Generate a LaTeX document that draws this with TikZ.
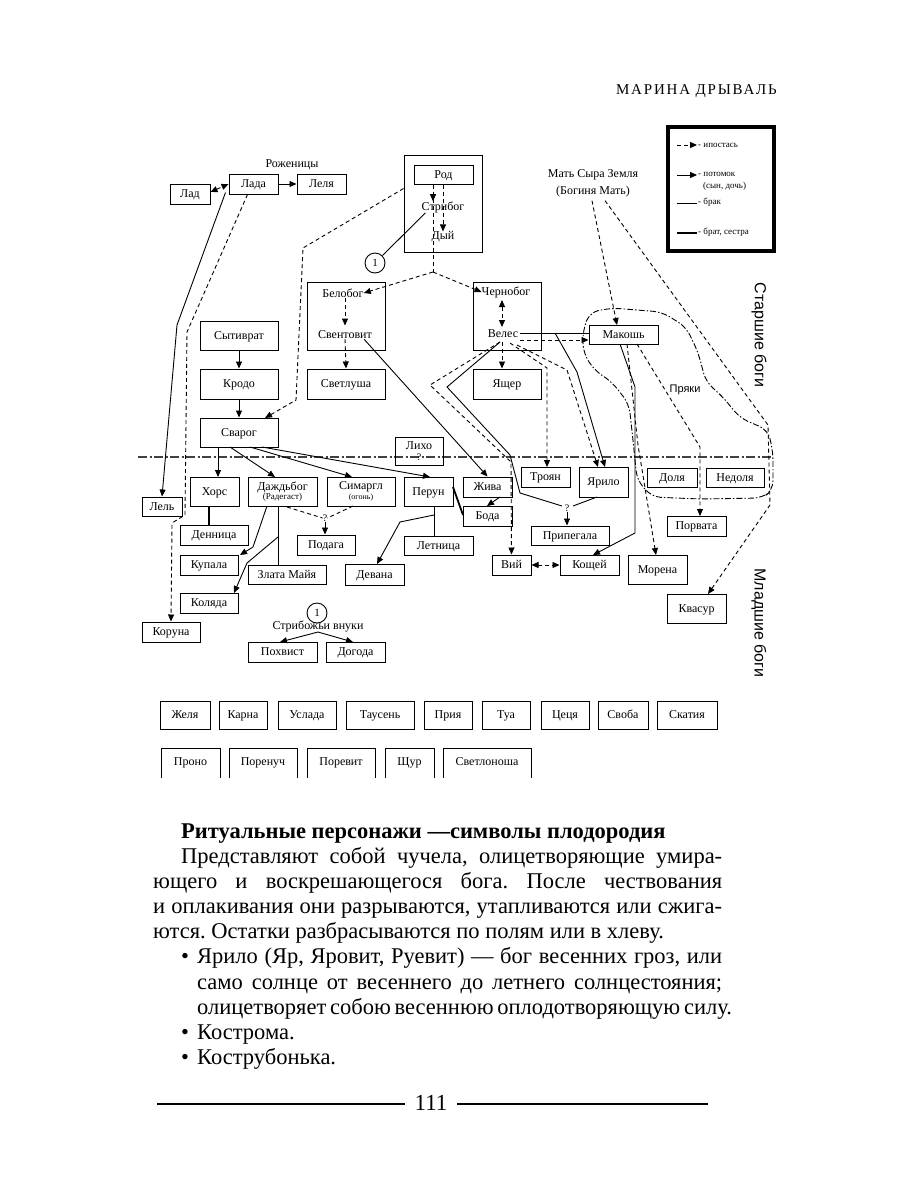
\documentclass[tikz,border=0pt]{standalone}
\usepackage{fontspec}
\setmainfont{Liberation Serif}
\newfontfamily\sansf{Liberation Sans}
\newfontfamily\hdrf[LetterSpace=12]{Liberation Serif}
\usetikzlibrary{arrows.meta,calc}
\frenchspacing
\newcommand\bxstrut{\rule[-3.5pt]{0pt}{14.5pt}}
\tikzset{
 bx/.style={draw, line width=1pt, inner sep=0pt, font=\fontsize{12}{12.5}\selectfont, align=center},
 lab/.style={inner sep=0pt, font=\fontsize{12}{12.5}\selectfont, align=center},
 con/.style={line width=0.9pt},
 arr/.style={con, -{Triangle[length=7pt,width=6pt]}},
 hyp/.style={con, dash pattern=on 4pt off 3pt},
 harr/.style={hyp, -{Triangle[length=7pt,width=6pt]}},
 hboth/.style={hyp, {Triangle[length=7pt,width=6pt]}-{Triangle[length=7pt,width=6pt]}},
 sib/.style={line width=2.2pt},
 divider/.style={line width=2.6pt, black!75, dash pattern=on 9pt off 2.5pt on 2pt off 2.5pt},
 pryak/.style={line width=0.9pt, dash pattern=on 6pt off 2pt on 1.5pt off 2pt},
 body/.style={inner sep=0pt, anchor=base west, font=\fontsize{22.5}{25}\selectfont},
 legtxt/.style={inner sep=0pt, anchor=west, font=\fontsize{9}{10}\selectfont},
 num/.style={draw, circle, line width=0.9pt, minimum size=20pt, inner sep=0pt, font=\fontsize{11}{11}\selectfont},
 vlab/.style={rotate=-90, inner sep=0pt, font=\sansf\fontsize{16}{16}\selectfont},
}
% single-line box (with strut)
\newcommand\bx[6]{%
 \pgfmathsetmacro\bxw{#4-#2}\pgfmathsetmacro\bxh{#5-#3}%
 \pgfmathsetmacro\bxx{(#2+#4)/2}\pgfmathsetmacro\bxy{(#3+#5)/2}%
 \node[bx,minimum width=\bxw pt,minimum height=\bxh pt] (#1) at (\bxx,\bxy) {\bxstrut #6};}
% multi-line box (no strut)
\newcommand\bxm[6]{%
 \pgfmathsetmacro\bxw{#4-#2}\pgfmathsetmacro\bxh{#5-#3}%
 \pgfmathsetmacro\bxx{(#2+#4)/2}\pgfmathsetmacro\bxy{(#3+#5)/2}%
 \node[bx,minimum width=\bxw pt,minimum height=\bxh pt] (#1) at (\bxx,\bxy) {#6};}
\newcommand\obx[4]{%
 \draw[line width=1pt] (#2,778) -- (#2,748) -- (#3,748) -- (#3,778);
 \pgfmathsetmacro\bxx{(#2+#3)/2}%
 \node[lab] (#1) at (\bxx,762) {\bxstrut #4};}
\begin{document}
\begin{tikzpicture}[x=1pt,y=-1pt]
\fill[white] (0,0) rectangle (900,1200);
\useasboundingbox (0,0) rectangle (900,1200);

% header
\node[inner sep=0pt, anchor=base east, font=\hdrf\fontsize{15}{15}\selectfont] (hdr) at (777,94) {МАРИНА ДРЫВАЛЬ};

% legend
\node[draw, line width=3.5pt, minimum width=106pt, minimum height=124pt, inner sep=0pt] (legend) at (721,189) {};
\coordinate (l1a) at (677,145); \coordinate (l1b) at (697,145);
\draw[harr] (l1a) -- (l1b);
\node[legtxt] (lt1) at (698,145) {- ипостась};
\coordinate (l2a) at (677,175); \coordinate (l2b) at (697,175);
\draw[arr] (l2a) -- (l2b);
\node[legtxt] (lt2) at (698,174) {- потомок};
\node[legtxt] (lt2b) at (703,186) {(сын, дочь)};
\coordinate (l3a) at (677,203); \coordinate (l3b) at (697,203);
\draw[con] (l3a) -- (l3b);
\node[legtxt] (lt3) at (698,202) {- брак};
\coordinate (l4a) at (677,233); \coordinate (l4b) at (697,233);
\draw[sib] (l4a) -- (l4b);
\node[legtxt] (lt4) at (698,232) {- брат, сестра};

% top boxes
\node[lab] (rozh) at (292,165) {Роженицы};
\bx{lad}{170}{184}{210}{204}{Лад}
\bx{lada}{229}{174}{278}{194}{Лада}
\bx{lelya}{297}{174}{346}{194}{Леля}
\bxm{rodbig}{404}{155}{482}{252}{}
\bx{rod}{414}{165}{473}{184}{Род}
\node[lab] (strib) at (443,207) {Стрибог};
\node[lab] (dyi) at (443,237) {Дый};
\node[num] (c1) at (375,263) {1};
\bxm{belbox}{307}{282}{385}{350}{}
\node[lab] (belobog) at (343,293) {Белобог};
\node[lab] (svent) at (345,335) {Свентовит};
\bx{svetlusha}{307}{369}{385}{399}{Светлуша}
\bx{sytivrat}{200}{321}{278}{350}{Сытиврат}
\bx{krodo}{200}{369}{278}{399}{Кродо}
\bx{svarog}{200}{418}{278}{447}{Сварог}
\bxm{chbox}{473}{282}{541}{350}{}
\node[lab] (chern) at (506,292) {Чернобог};
\node[lab] (veles) at (503,334) {Велес};
\bx{yashcher}{473}{369}{541}{399}{Ящер}
\bx{makosh}{589}{325}{658}{344}{Макошь}
\node[lab] (msz) at (593,175) {Мать Сыра Земля};
\node[lab] (msz2) at (593,192) {(Богиня Мать)};
\node[inner sep=0pt, font=\sansf\fontsize{11}{11}\selectfont] (pryaki) at (685,390) {Пряки};

% divider
\coordinate (divL) at (138,457); \coordinate (divR) at (772,457);
\draw[divider] (divL) -- (divR);

% lower boxes
\bxm{likho}{395}{437}{443}{465}{Лихо\\[-1pt]{\fontsize{10}{10}\selectfont ?}}
\bx{khors}{190}{477}{239}{506}{Хорс}
\bxm{dazhd}{248}{477}{317}{506}{Даждьбог\\[-3pt]{\fontsize{9}{9}\selectfont (Радегаст)}}
\bxm{simargl}{327}{477}{395}{506}{Симаргл\\[-3pt]{\fontsize{8}{8}\selectfont (огонь)}}
\bx{perun}{404}{477}{453}{506}{Перун}
\bx{lel}{142}{497}{182}{516}{Лель}
\bx{zhiva}{463}{477}{512}{497}{Жива}
\bx{boda}{463}{506}{512}{526}{Бода}
\bx{troyan}{521}{467}{570}{487}{Троян}
\bx{yarilo}{579}{467}{628}{497}{Ярило}
\bx{dolya}{647}{468}{697}{487}{Доля}
\bx{nedolya}{706}{468}{764}{487}{Недоля}
\bx{dennitsa}{180}{525}{248}{545}{Денница}
\bx{podaga}{297}{535}{355}{555}{Подага}
\bx{letnitsa}{404}{536}{473}{555}{Летница}
\bx{pripegala}{531}{526}{609}{545}{Припегала}
\bx{kupala}{180}{555}{238}{575}{Купала}
\bx{zlata}{248}{565}{326}{584}{Злата Майя}
\bx{devana}{345}{564}{404}{585}{Девана}
\bx{vii}{492}{555}{531}{575}{Вий}
\bx{koshchei}{560}{555}{619}{575}{Кощей}
\bx{morena}{628}{555}{687}{584}{Морена}
\bx{porvata}{667}{516}{726}{536}{Порвата}
\bx{kolyada}{180}{593}{238}{613}{Коляда}
\bx{kvasur}{667}{594}{726}{623}{Квасур}
\bx{koruna}{142}{622}{200}{642}{Коруна}
\node[num] (c2) at (317,613) {1};
\node[lab] (vnuki) at (318,626) {Стрибожьи внуки};
\bx{pokhvist}{248}{642}{317}{662}{Похвист}
\bx{dogoda}{326}{642}{385}{662}{Догода}

\node[vlab] (starshie) at (759,335) {Старшие боги};
\node[vlab] (mladshie) at (759,623) {Младшие боги};

% --- connectors, top
\draw[arr] (lada) -- (lelya);
\draw[hboth] (lad.east) ++(0,-2) coordinate (ladE) -- (lada.west) ;
\draw[arr] (lada.south west) ++(-3,-2) -- (177,325) -- (lel.north);
\draw[harr] (lada.south) ++(-6,0) -- (187,332) -- (185,515) -- (172,523) -- (koruna.north);
\draw[harr] (rodbig.west) ++(0,-15) -- (303,248) -- (296,400) -- (265,418);
\draw[harr] (rod.south) ++(-10.5,0) coordinate (rs1) -- (rs1 |- strib.north);
\draw[harr] (rod.south) ++(-0.5,0) coordinate (rs2) -- (rs2 |- dyi.north);
\draw[hyp] (rod.south) ++(-10.5,0) coordinate (rs3) -- (433,272) coordinate (junc);
\draw[harr] (junc) -- (belobog.east);
\draw[harr] (junc) -- (chern.west);
\draw[con] (strib.south west) ++(4,0) -- (c1);
\draw[harr] (belobog.south) ++(2,0) -- ++(0,28);
\draw[harr] (svent.south) -- (svetlusha.north);
\draw[con, -{Triangle[length=7pt,width=6pt]}] (svent.south east) ++(-8,0) -- (zhiva.north);
\draw[arr] (sytivrat) -- (krodo);
\draw[arr] (krodo) -- (svarog);
\draw[hboth] (502,300) -- (502,327);
\draw[harr] (502,342) -- (yashcher.north -| 502,0);

% Veles & Makosh
\draw[con] (520,333) -- (makosh.west |- 0,333);
\draw[harr] (520,340) -- (makosh.west |- 0,340);
\draw[arr] (555,333) -- (577,372) -- (605,467);
\draw[harr] (517,345) -- (567,370) -- (598,467);
\draw[harr] (510,343) -- (547,368) -- (547,467);
\draw[harr] (500,342) -- (430,385) -- (511,462) -- (vii.north);
\draw[con] (500,342) -- (447,387) -- (510,455) -- (520,493) -- (562,506);
\draw[con] (597,497) -- (573,506);
\node[lab, font=\fontsize{10}{10}\selectfont] (q2) at (567,508) {?};
\draw[arr] (q2.south) -- (pripegala.north -| q2);
\draw[arr] (620,344) -- (635,387) -- (635,533) -- (593,555);
\draw[harr] (627,344) -- (638,445) -- (656,555);
\draw[harr] (637,344) -- (700,447) -- (700,516);
\draw[harr] (msz2.south) ++(-1,3) -- (617,325);
\draw[harr] (msz2.south) ++(12,3) -- (768,425) -- (770,505) -- (708,594);
\draw[pryak, rounded corners=9pt] (583,330) -- (590,312) -- (612,308) -- (662,312) -- (686,327) -- (698,352) -- (706,382) -- (722,396) -- (740,418) -- (768,430) -- (773,452) -- (773,490) -- (762,498) -- (700,499) -- (652,497) -- (637,480) -- (633,440) -- (629,404) -- (612,382) -- (594,370) -- (583,352) -- cycle;

% Svarog children
\draw[arr] (218,447) -- (218,477);
\draw[arr] (230,447) -- (275,477);
\draw[arr] (250,447) -- (352,477);
\draw[arr] (262,447) -- (430,477);
\draw[sib] (209,506) -- (209,525);
\draw[arr] (267,506) -- (253,547) -- (240,555);
\draw[con] (278,506) -- (278,565);
\draw[arr] (278,537) -- (247,563) -- (234,593);
\node[lab, font=\fontsize{10}{10}\selectfont] (q1) at (325,518) {?};
\draw[hyp] (287,507) -- (q1.west);
\draw[hyp] (353,506) -- (q1.east);
\draw[arr] (q1.south) -- (podaga.north -| q1);
\draw[con] (434,506) -- (434,536);
\draw[arr] (434,515) -- (400,522) -- (377,564);
\draw[line width=1.8pt] (453,487) -- (463,515);
\draw[arr] (500,497) -- (487,506);
\draw[hboth] (vii) -- (koshchei);
\draw[arr] (318,632) -- (280,642);
\draw[arr] (318,632) -- (353,642);

% bottom rows
\bx{zhelya}{160}{701}{210}{729}{Желя}
\bx{karna}{219}{701}{267}{729}{Карна}
\bx{uslada}{278}{701}{336}{729}{Услада}
\bx{tausen}{346}{701}{414}{729}{Таусень}
\bx{priya}{424}{701}{472}{729}{Прия}
\bx{tua}{482}{701}{530}{729}{Туа}
\bx{tsetsya}{541}{701}{589}{729}{Цеця}
\bx{svoba}{598}{701}{648}{729}{Своба}
\bx{skatiya}{657}{701}{717}{729}{Скатия}
\obx{prono}{161}{220}{Проно}
\obx{porenuch}{229}{297}{Поренуч}
\obx{porevit}{307}{375}{Поревит}
\obx{shchur}{385}{434}{Щур}
\obx{svetlonosha}{443}{531}{Светлоноша}

% body text
\node[body, font=\bfseries\fontsize{22.5}{25}\selectfont] (h1) at (181,838) {Ритуальные персонажи —символы плодородия};
\node[body] (t2) at (181,863) {\makebox[541pt][s]{Представляют собой чучела, олицетворяющие умира-}};
\node[body] (t3) at (153,888) {\makebox[569pt][s]{ющего и воскрешающегося бога. После чествования}};
\node[body] (t4) at (153,913) {\makebox[569pt][s]{и оплакивания они разрываются, утапливаются или сжига-}};
\node[body] (t5) at (153,938) {ются. Остатки разбрасываются по полям или в хлеву.};
\node[body] (b1) at (181,963) {•};
\node[body] (t6) at (197,963) {\makebox[525pt][s]{Ярило (Яр, Яровит, Руевит) — бог весенних гроз, или}};
\node[body] (t7) at (197,989) {\makebox[525pt][s]{само солнце от весеннего до летнего солнцестояния;}};
\node[body] (t8) at (197,1014) {\makebox[525pt][s]{олицетворяет собою весеннюю оплодотворяющую силу.}};
\node[body] (b2) at (181,1039) {•};
\node[body] (t9) at (197,1039) {Кострома.};
\node[body] (b3) at (181,1064) {•};
\node[body] (t10) at (197,1064) {Кострубонька.};

\node[inner sep=0pt, font=\fontsize{23}{23}\selectfont] (pg) at (431,1103) {111};
\coordinate (rl) at (157,1104); \coordinate (rr) at (708,1104);
\draw[line width=1.3pt] (rl) -- (405,1104);
\draw[line width=1.3pt] (457,1104) -- (rr);
\end{tikzpicture}
\end{document}
